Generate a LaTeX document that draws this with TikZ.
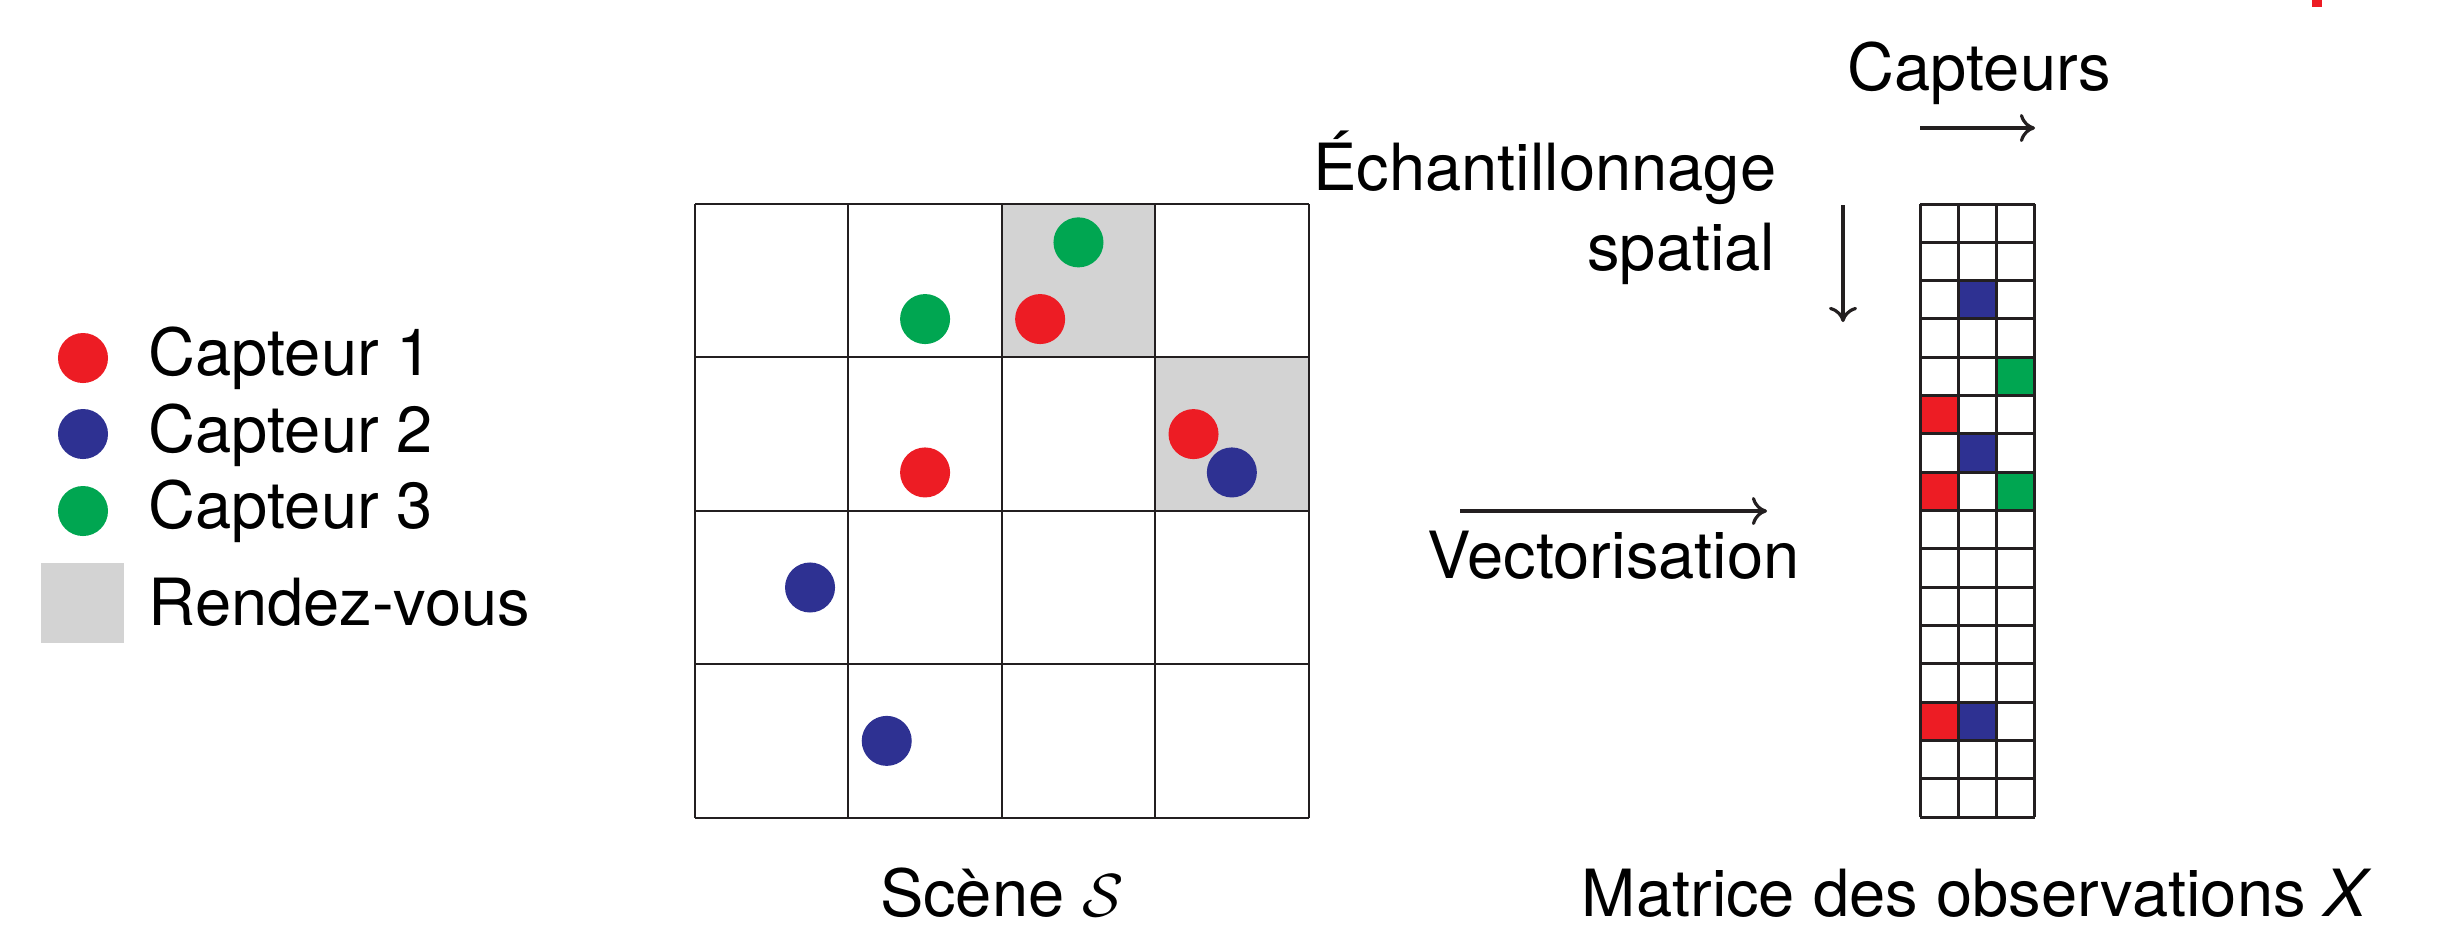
\documentclass[tikz,border=0pt]{standalone}
\usepackage{fontspec}
\setmainfont{TeX Gyre Heros}
\usetikzlibrary{arrows.meta}

\definecolor{capteurA}{RGB}{237,28,36}
\definecolor{capteurB}{RGB}{46,49,146}
\definecolor{capteurC}{RGB}{0,166,81}
\definecolor{rdv}{RGB}{211,211,211}
\definecolor{trait}{RGB}{35,31,32}

\begin{document}
\begin{tikzpicture}[x=0.01cm,y=-0.01cm,>={To[length=4.3pt,width=8pt]},
	dot/.style={circle,inner sep=0pt,minimum size=0.5cm},
	txt/.style={inner sep=0pt,font=\fontsize{18.5}{22}\selectfont},
	fleche/.style={->,line width=0.9pt,draw=trait}]
	\useasboundingbox (0,0) rectangle (2445,926);

	% legende
	\node[dot,fill=capteurA] (leg1) at (83,358) {};
	\node[dot,fill=capteurB] (leg2) at (83,434) {};
	\node[dot,fill=capteurC] (leg3) at (83,511) {};
	\node[inner sep=0pt,minimum width=0.83cm,minimum height=0.8cm,fill=rdv] (leg4) at (82.5,603) {};
	\node[txt,anchor=base west] (txt1) at (148,375) {Capteur 1};
	\node[txt,anchor=base west] (txt2) at (148,452) {Capteur 2};
	\node[txt,anchor=base west] (txt3) at (148,528) {Capteur 3};
	\node[txt,anchor=base west] (txt4) at (148,625) {Rendez-vous};

	% scene
	\begin{scope}[shift={(695,204)},x=1.533cm,y=-1.533cm]
		\fill[rdv] (2,0) rectangle (3,1);
		\fill[rdv] (3,1) rectangle (4,2);
		\foreach \i in {0,...,4} {
			\draw[trait,line width=0.6pt] (\i,0) -- (\i,4);
			\draw[trait,line width=0.6pt] (0,\i) -- (4,\i);
		}
		\node[dot,fill=capteurC] (s1) at (2.5,0.25) {};
		\node[dot,fill=capteurC] (s2) at (1.5,0.75) {};
		\node[dot,fill=capteurA] (s3) at (2.25,0.75) {};
		\node[dot,fill=capteurA] (s4) at (3.25,1.5) {};
		\node[dot,fill=capteurB] (s5) at (3.5,1.75) {};
		\node[dot,fill=capteurA] (s6) at (1.5,1.75) {};
		\node[dot,fill=capteurB] (s7) at (0.75,2.5) {};
		\node[dot,fill=capteurB] (s8) at (1.25,3.5) {};
	\end{scope}
	\node[txt,anchor=base] (scene) at (1002,916) {Scène $\mathcal{S}$};

	% matrice
	\begin{scope}[shift={(1920,204)},x=0.383cm,y=-0.383cm]
		\fill[capteurB] (1,2) rectangle (2,3);
		\fill[capteurC] (2,4) rectangle (3,5);
		\fill[capteurA] (0,5) rectangle (1,6);
		\fill[capteurB] (1,6) rectangle (2,7);
		\fill[capteurA] (0,7) rectangle (1,8);
		\fill[capteurC] (2,7) rectangle (3,8);
		\fill[capteurA] (0,13) rectangle (1,14);
		\fill[capteurB] (1,13) rectangle (2,14);
		\foreach \i in {0,...,16}
			\draw[trait,line width=0.85pt] (0,\i) -- (3,\i);
		\foreach \i in {0,...,3}
			\draw[trait,line width=0.85pt] (\i,0) -- (\i,16);
	\end{scope}
	\node[txt,anchor=base] (matrice) at (1977,916) {Matrice des observations \textit{X}};

	% fleches
	\node[txt,anchor=base west] (capt) at (1847,90) {Capteurs};
	\coordinate (capA) at (1920,128);
	\coordinate (capB) at (2035,128);
	\draw[fleche] (capA) -- (capB);

	\node[txt,anchor=base east] (ech1) at (1777,190) {Échantillonnage};
	\node[txt,anchor=base east] (ech2) at (1776,270) {spatial};
	\coordinate (echA) at (1843,205);
	\coordinate (echB) at (1843,322);
	\draw[fleche] (echA) -- (echB);

	\coordinate (vecA) at (1460,511);
	\coordinate (vecB) at (1767,511);
	\draw[fleche] (vecA) -- (vecB);
	\node[txt,anchor=base west] (vect) at (1427,578) {Vectorisation};

	\fill[capteurA] (2312,0) rectangle (2322,7);
\end{tikzpicture}
\end{document}
